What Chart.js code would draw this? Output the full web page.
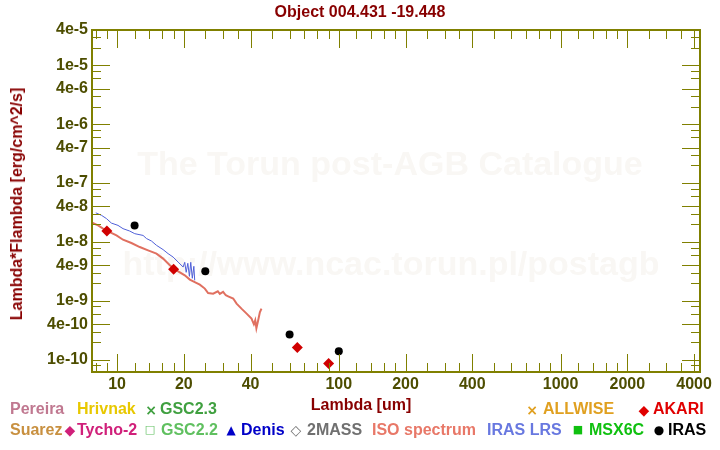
<!DOCTYPE html>
<html>
<head>
<meta charset="utf-8">
<script src="https://cdn.jsdelivr.net/npm/chart.js@4"></script>
<style>
    body { margin: 0; background: #fff; }
    #wrap { position: relative; width: 720px; height: 450px; font-family: "Liberation Sans", Arial, sans-serif; font-weight: bold; }
    #c { position: absolute; left: 0; top: 0; }
    .t { position: absolute; white-space: nowrap; font-size: 16px; line-height: 16px; }
    .m { position: absolute; width: 12px; height: 14px; font-size: 14px; line-height: 14px; text-align: center; font-family: "DejaVu Sans", sans-serif; }
</style>
</head>
<body>
<div id="wrap">
    <canvas id="c" width="720" height="450"></canvas>

    <div class="t" style="left:0; width:720px; text-align:center; top:4px; color:#880000">Object 004.431 -19.448</div>
    <div class="t" style="left:17px; top:204px; transform:translate(-50%,-50%) rotate(-90deg); color:#880000">Lambda*Flambda [erg/cm^2/s]</div>
    <div class="t" style="left:0; width:722px; text-align:center; top:397px; color:#880000">Lambda [um]</div>

    <!-- legend row 1 -->
    <div class="t" style="left:10px; top:401px; color:#c07890">Pereira</div>
    <div class="t" style="left:77px; top:401px; color:#e8c800">Hrivnak</div>
    <div class="m" style="left:145px; top:403px; color:#40a040">×</div>
    <div class="t" style="left:160px; top:401px; color:#40a040">GSC2.3</div>
    <div class="m" style="left:526px; top:403px; color:#e0a020">×</div>
    <div class="t" style="left:543px; top:401px; color:#e0a020">ALLWISE</div>
    <div class="m" style="left:638px; top:403px; color:#e00000">◆</div>
    <div class="t" style="left:653px; top:401px; color:#e00000">AKARI</div>

    <!-- legend row 2 -->
    <div class="t" style="left:10px; top:422px; color:#c89040">Suarez</div>
    <div class="m" style="left:64px; top:423px; color:#d0207a">◆</div>
    <div class="t" style="left:77px; top:422px; color:#d0207a">Tycho-2</div>
    <div class="m" style="left:144px; top:423px; color:#60c060; font-size:11px">□</div>
    <div class="t" style="left:161px; top:422px; color:#60c060">GSC2.2</div>
    <div class="m" style="left:225px; top:423px; color:#0000c8; font-size:12px">▲</div>
    <div class="t" style="left:241px; top:422px; color:#0000c8">Denis</div>
    <div class="m" style="left:290px; top:423px; color:#707070">◇</div>
    <div class="t" style="left:307px; top:422px; color:#707070">2MASS</div>
    <div class="t" style="left:372px; top:422px; color:#e87868">ISO spectrum</div>
    <div class="t" style="left:487px; top:422px; color:#6878e0">IRAS LRS</div>
    <div class="m" style="left:572px; top:423px; color:#10c010; font-size:11px">■</div>
    <div class="t" style="left:589px; top:422px; color:#10c010">MSX6C</div>
    <div class="m" style="left:653px; top:423px; color:#000; font-size:12px">●</div>
    <div class="t" style="left:668px; top:422px; color:#000">IRAS</div>
</div>

<script>
// axis labels
const xTickLabels = ['10', '20', '40', '100', '200', '400', '1000', '2000', '4000'];
const yTickLabels = ['4e-5', '1e-5', '4e-6', '1e-6', '4e-7', '1e-7', '4e-8', '1e-8', '4e-9', '1e-9', '4e-10', '1e-10'];
// minor tick mantissas per decade
const xMantissas = [1, 1.2, 1.4, 1.6, 1.8, 2, 2.5, 3, 3.5, 4, 5, 6, 7, 8, 9];
const yMantissas = [1, 2, 3, 4, 6, 8];

// ISO spectrum (um, erg/cm^2/s)
const isoLambda = [7.71, 8.21, 8.65, 9.27, 9.94, 10.64, 11.61, 12.66, 13.8, 15.06, 16.13, 17.3, 18.54, 20.21, 21.29,
    22.41, 23.62, 24.88, 25.74, 27.12, 28.47, 29.07, 30.08, 30.93, 31.7, 33.4, 34.6, 36.4, 38.4, 40.4,
    41.4, 42.0, 42.5, 43.3, 44.06, 44.8];
const isoFlux = [2.13e-8, 1.91e-8, 1.68e-8, 1.47e-8, 1.29e-8, 1.09e-8, 9.57e-9, 8.18e-9, 7.19e-9, 6.32e-9, 5.2e-9, 4.0e-9,
    3.29e-9, 2.71e-9, 2.29e-9, 2.08e-9, 1.88e-9, 1.61e-9, 1.35e-9, 1.32e-9, 1.45e-9, 1.31e-9, 1.42e-9, 1.24e-9,
    1.19e-9, 1.09e-9, 8.94e-10, 7.35e-10, 6.05e-10, 4.97e-10, 3.98e-10, 4.65e-10, 3.4e-10, 4.65e-10, 6.36e-10, 7.35e-10];

// IRAS LRS spectrum
const lrsLambda = [8.02, 8.51, 8.96, 9.43, 10.1, 10.64, 11.41, 12.02, 13.1, 13.58, 14.3, 15.06, 16.13, 16.99, 17.89,
    18.85, 19.86, 20.2, 20.5, 20.85, 21.2, 21.5, 21.85, 22.2, 22.4];
const lrsFlux = [3.12e-8, 2.83e-8, 2.49e-8, 2.09e-8, 1.91e-8, 1.68e-8, 1.53e-8, 1.38e-8, 1.29e-8, 1.14e-8, 1.035e-8,
    8.75e-9, 7.4e-9, 6.32e-9, 5.54e-9, 4.55e-9, 3.74e-9, 4.5e-9, 3.04e-9, 4.33e-9, 2.6e-9, 4.5e-9, 2.41e-9, 3.85e-9, 2.22e-9];

// photometry
const irasLambda = [12, 25, 60, 100];
const irasFlux = [1.91e-8, 3.16e-9, 2.66e-10, 1.38e-10];
const akariLambda = [9, 18, 65, 90];
const akariFlux = [1.53e-8, 3.42e-9, 1.6e-10, 8.55e-11];

const axisColor = '#808000';
const fontFamily = '"Liberation Sans", Arial, sans-serif';
Chart.defaults.font.family = fontFamily;

function pts(xs, ys) {
    return xs.map((x, i) => ({ x: x, y: ys[i] }));
}

// every tick mark position for a log axis, long ones where there is a label
function tickMarks(mantissas, labels, lo, hi) {
    const labelled = labels.map(Number);
    const out = [];
    for (let e = Math.floor(Math.log10(lo)) - 1; e <= Math.ceil(Math.log10(hi)); e++) {
        mantissas.forEach(m => {
            const v = Number(m + 'e' + e);
            if (v >= lo * 0.999 && v <= hi * 1.001) {
                out.push({ v: v, long: labelled.some(l => Math.abs(l - v) / l < 1e-6) });
            }
        });
    }
    return out;
}

const frame = {
    id: 'frame',
    beforeDatasetsDraw(chart) {
        const ctx = chart.ctx;
        const a = chart.chartArea;
        const cx = (a.left + a.right) / 2 - 6;
        ctx.save();
        ctx.fillStyle = '#f9f7f4';
        ctx.font = 'bold 34px ' + fontFamily;
        ctx.textAlign = 'center';
        ctx.fillText('The Torun post-AGB Catalogue', cx, 175);
        ctx.fillText('http://www.ncac.torun.pl/postagb', cx + 1, 275);
        ctx.restore();
    },
    afterDatasetsDraw(chart) {
        const ctx = chart.ctx;
        const a = chart.chartArea;
        const xs = chart.scales.x;
        const ys = chart.scales.y;
        ctx.save();
        ctx.strokeStyle = axisColor;
        ctx.lineWidth = 1;
        ctx.beginPath();
        tickMarks(xMantissas, xTickLabels, xs.min, xs.max).forEach(t => {
            const px = Math.round(xs.getPixelForValue(t.v)) + 0.5;
            const len = t.long ? 18 : 9;
            ctx.moveTo(px, a.bottom); ctx.lineTo(px, a.bottom - len);
            ctx.moveTo(px, a.top); ctx.lineTo(px, a.top + len);
        });
        tickMarks(yMantissas, yTickLabels, ys.min, ys.max).forEach(t => {
            const py = Math.round(ys.getPixelForValue(t.v)) + 0.5;
            const len = t.long ? 18 : 9;
            ctx.moveTo(a.left, py); ctx.lineTo(a.left + len, py);
            ctx.moveTo(a.right, py); ctx.lineTo(a.right - len, py);
        });
        ctx.stroke();
        ctx.lineWidth = 2;
        ctx.strokeRect(a.left, a.top, a.right - a.left, a.bottom - a.top);
        ctx.restore();
    }
};

const tickFont = { size: 16, weight: 'bold', family: fontFamily };

new Chart(document.getElementById('c'), {
    type: 'scatter',
    data: {
        datasets: [
            { label: 'IRAS', data: pts(irasLambda, irasFlux), pointStyle: 'circle', pointRadius: 4,
              backgroundColor: '#000', borderColor: '#000', borderWidth: 0 },
            { label: 'AKARI', data: pts(akariLambda, akariFlux), pointStyle: 'rectRot', pointRadius: 5.5,
              backgroundColor: '#d00000', borderColor: '#d00000', borderWidth: 0 },
            { label: 'IRAS LRS', data: pts(lrsLambda, lrsFlux), showLine: true, pointRadius: 0,
              borderColor: '#5060d8', borderWidth: 1, tension: 0 },
            { label: 'ISO spectrum', data: pts(isoLambda, isoFlux), showLine: true, pointRadius: 0,
              borderColor: '#e07060', borderWidth: 2, tension: 0 }
        ]
    },
    options: {
        responsive: false,
        animation: false,
        layout: { padding: { top: 30, right: 20, left: 0, bottom: 0 } },
        plugins: { legend: { display: false }, tooltip: { enabled: false } },
        scales: {
            x: {
                type: 'logarithmic', position: 'bottom', min: 7.71, max: 4255,
                grid: { display: false, drawTicks: false }, border: { display: false },
                afterBuildTicks: s => { s.ticks = xTickLabels.map(t => ({ value: Number(t) })); },
                afterFit: s => { s.height = 78; },
                ticks: { color: '#4d4d00', font: tickFont, padding: 3, maxRotation: 0, autoSkip: false,
                         callback: (v, i) => xTickLabels[i] }
            },
            y: {
                type: 'logarithmic', min: 6.15e-11, max: 4e-5,
                grid: { display: false, drawTicks: false }, border: { display: false },
                afterBuildTicks: s => { s.ticks = yTickLabels.map(t => ({ value: Number(t) })); },
                afterFit: s => { s.width = 92; },
                ticks: { color: '#4d4d00', font: tickFont, padding: 4, autoSkip: false,
                         callback: (v, i) => yTickLabels[i] }
            }
        }
    },
    plugins: [frame]
});
</script>
</body>
</html>
